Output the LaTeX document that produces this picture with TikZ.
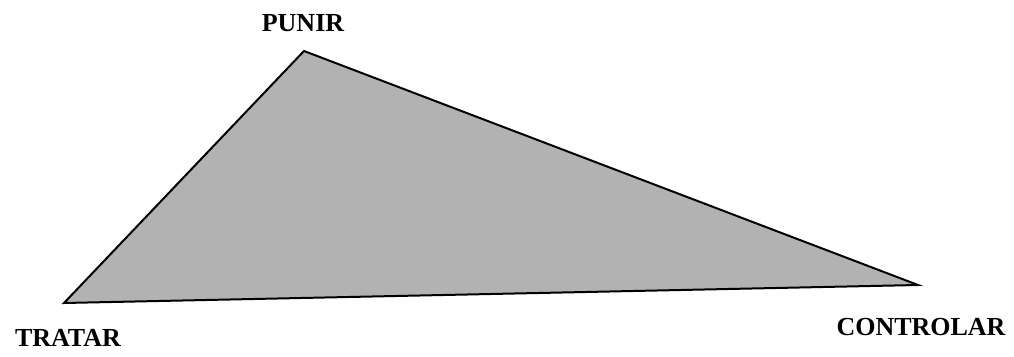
\documentclass[tikz,border=0pt]{standalone}
\usepackage{fontspec}
\setmainfont{Liberation Serif}
\begin{document}
\begin{tikzpicture}[x=1pt,y=1pt,
  lbl/.style={font=\fontsize{26}{30}\selectfont\bfseries, anchor=base, inner sep=0pt}]
\useasboundingbox (0,0) rectangle (1014,356);
\coordinate (P) at (304,305);
\coordinate (T) at (64,53);
\coordinate (C) at (918,71);
\filldraw[fill=black!30, draw=black, line width=2pt, line join=miter] (P) -- (C) -- (T) -- cycle;
\node[lbl] (punir) at (303,324) {PUNIR};
\node[lbl] (tratar) at (68,10) {TRATAR};
\node[lbl] (controlar) at (921,20) {CONTROLAR};
\end{tikzpicture}
\end{document}
